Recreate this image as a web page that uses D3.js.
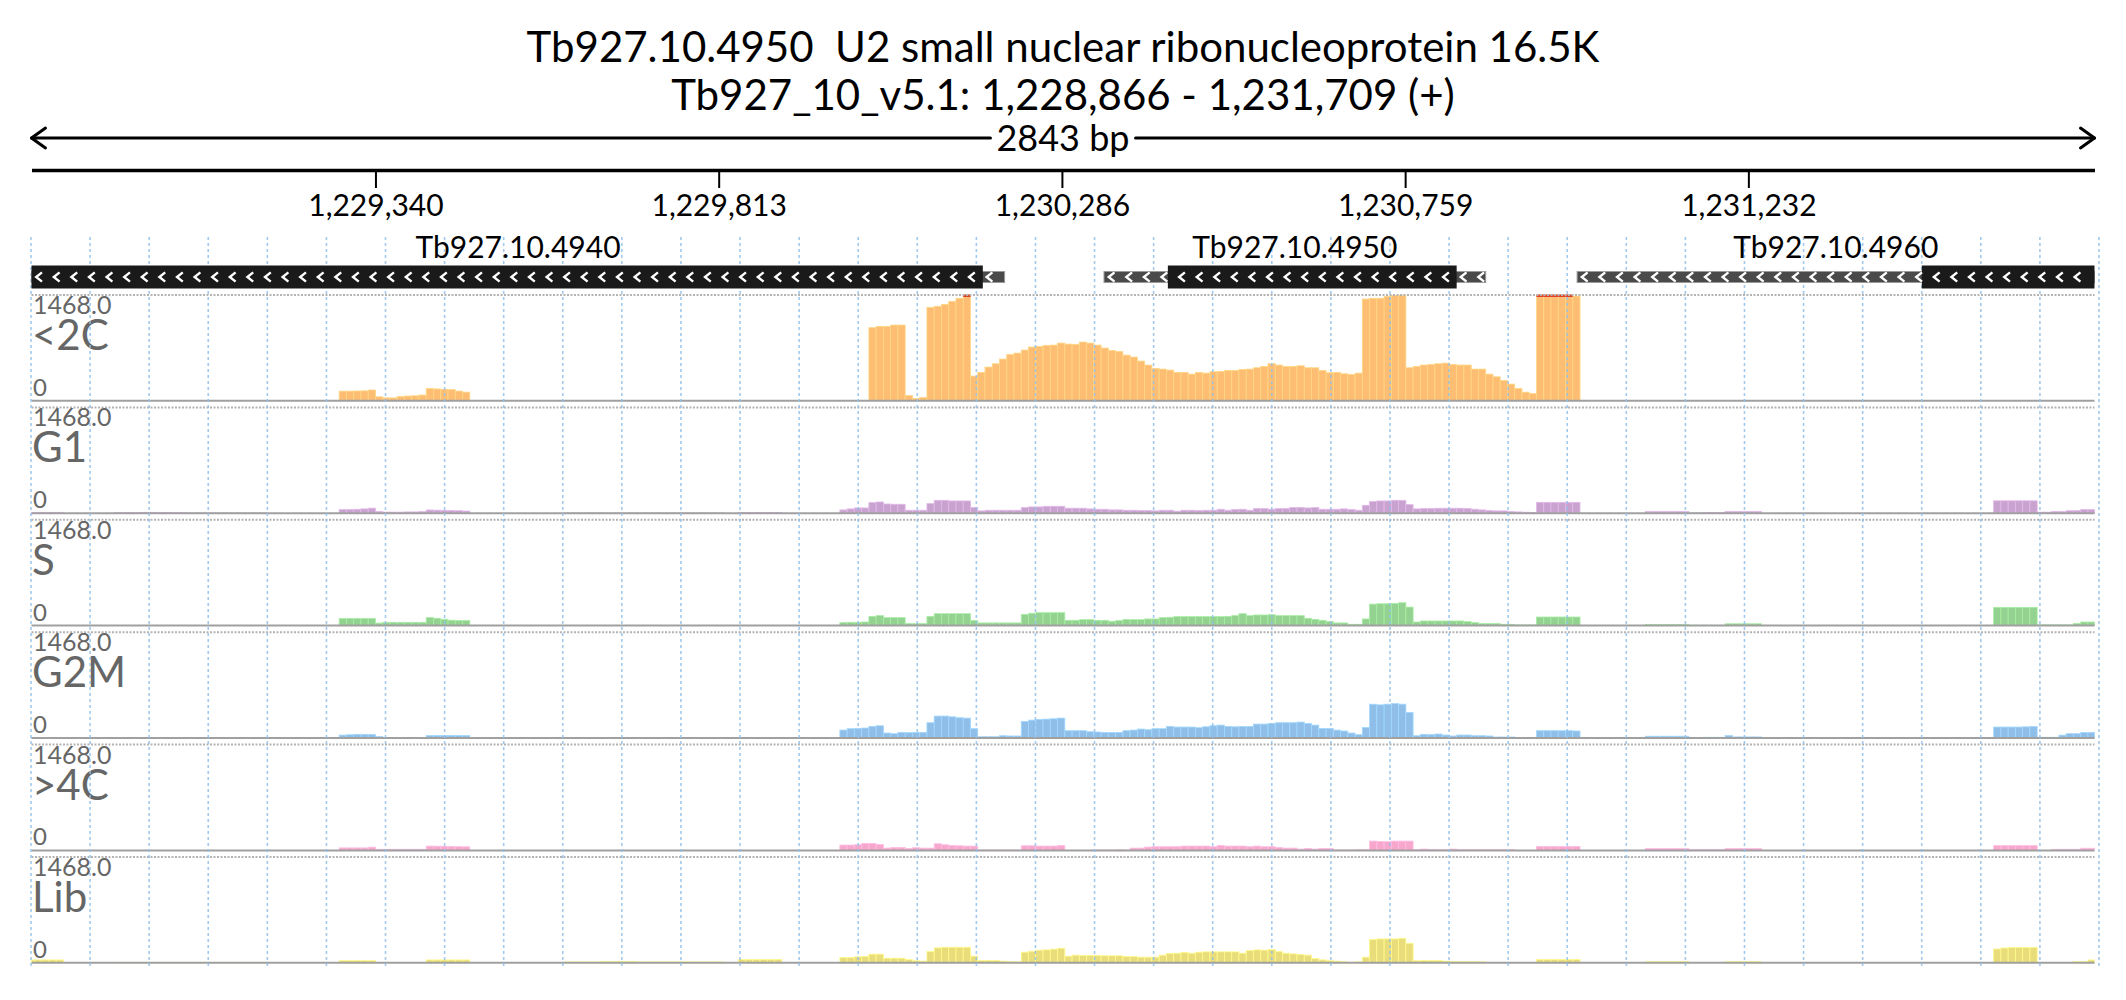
<!DOCTYPE html>
<html><head><meta charset="utf-8">
<script src="https://cdn.jsdelivr.net/npm/d3@7"></script>
<style>
body{margin:0;background:#fff}
svg{display:block}
text{font-family:Lato,"Noto Sans",sans-serif}
</style>
</head><body>
<svg id="chart" width="2126" height="1000"></svg>
<script>
// ---------------- data ----------------
const chromName = "Tb927_10_v5.1";
const regionStart = 1228866, regionEnd = 1231709, strand = "+";
const geneId = "Tb927.10.4950";
const geneDesc = "U2 small nuclear ribonucleoprotein 16.5K";
const tickValues = [1229340, 1229813, 1230286, 1230759, 1231232];

const geneNames  = ["Tb927.10.4940", "Tb927.10.4950", "Tb927.10.4960"];
const geneStarts = [1228700, 1230344, 1230996];
const geneEnds   = [1230207, 1230870, 1232000];
const cdsStarts  = [1228700, 1230432, 1231471];
const cdsEnds    = [1230177, 1230830, 1232000];

const trackNames = ["<2C", "G1", "S", "G2M", ">4C", "Lib"];
const trackMax = 1468;
const binOrigin = 1228870, binSize = 10;

// coverage per 10-bp bin: [first bin index, values...]
const cov2C = [
  [42, [134,134,136,138,150,55,40,40,60,66,70,80,171,165,160,155,135,120]],
  [115, [1014,1033,1033,1051,1051,74,32,46,1297,1311,1338,1380,1422,1500,
         343,394,468,514,579,644,662,704,746,755,769,773,801,787,783,815,801,773,732,699,685,634,607,551,496,449,
         440,426,394,394,370,394,384,403,408,421,421,435,440,458,477,514,496,477,477,486,458,458,421,389,394,375,366,384,
         1412,1422,1422,1450,1462,1465,
         458,477,496,505,514,523,505,496,496,440,440,370,333,282,232,171,120,102,
         1550,1550,1550,1550,1550,1454]]
];
const covG1 = [
  [-1, [12,12,12,12,12]],
  [11, [8,8,8,10,12,12,10,8,8,8,4,4,4,4,4,4,4,4,4,4,4]],
  [42, [50,50,55,60,70,25,15,15,15,18,18,22,45,42,40,38,35,30]],
  [73, [4,4,4,4,4,4,4,4,4,4,4,4,4,4,4,4,4,4,4,4,4,4]],
  [97, [10,10,10,10,10,10]],
  [111, [46,60,73,73,147,156,128,124,124,41,41,41,133,179,179,170,170,170,
         78,32,41,41,41,41,41,78,87,87,96,96,96,
         69,69,69,60,55,55,46,46,41,41,37,37,32,
         41,41,28,41,41,37,41,41,55,41,50,55,41,64,64,55,64,64,78,78,73,78,55,55,55,60,50,41,
         110,161,170,170,179,179,119,
         60,64,64,69,69,69,69,64,55,46,37,32,32,23,18,14,9,
         151,151,151,151,151,151]],
  [222, [25,25,25,25,25,25,5,5,10,10,10,25,25,25,25,25]],
  [270, [172,172,172,172,172,172,15,15,25,25,35,35,50,50,50]]
];
const covS = [
  [42, [97,97,97,97,97,35,45,45,45,45,45,45,111,102,88,74,70,70]],
  [111, [41,46,46,50,128,138,110,110,110,28,28,28,128,165,165,165,165,165,
         69,37,37,37,37,37,37,156,170,179,179,179,179,
         73,73,83,83,73,73,60,69,83,83,83,92,92,
         110,115,124,124,124,124,124,124,124,128,138,165,138,147,147,151,138,138,138,138,101,87,73,55,37,37,18,18,
         92,298,303,303,307,317,257,
         50,64,64,64,64,64,64,55,41,28,28,28,18,18,9,9,9,
         119,119,119,119,119,119]],
  [222, [15,15,15,15,15,15,5,5,5,5,5,25,25,25,25,25]],
  [270, [253,253,253,253,253,253,10,10,10,10,10,30,50,50,50]]
];
const covG2M = [
  [-1, [8,8,8,8,8]],
  [10, [8,8,8,8,8,8,8,8,8]],
  [42, [40,45,51,51,48,20,5,3,3,3,3,3,35,35,35,35,35,35]],
  [66, [6,6,6,6,6,6,6,6,6,6,6,6,6,6,6,6,6,6,6,6,6,6,6,6,6,6,6,6,6,6,6,6,6,6,6,6,6]],
  [111, [110,129,133,138,161,170,69,60,78,74,78,78,
         212,304,304,294,281,276,129,18,18,18,32,28,28,
         230,248,258,262,267,276,
         101,101,101,87,83,78,78,78,101,110,124,115,129,
         129,161,152,152,152,143,156,170,179,161,156,161,161,193,193,202,212,212,212,221,202,179,133,133,110,97,69,46,
         147,469,460,469,478,469,354,
         32,51,46,55,41,28,41,41,32,32,28,14,14,14,0,0,0,
         101,101,101,101,101,97]],
  [222, [25,25,25,25,25,25,0,0,10,10,10,35,15,15,15,15]],
  [270, [152,152,152,152,155,160,10,10,10,40,60,60,76,76,76]]
];
const cov4C = [
  [42, [35,35,35,35,45,15,15,15,15,15,15,15,60,58,58,55,52,50]],
  [111, [74,74,78,97,97,83,32,41,41,28,37,32,32,92,78,69,64,60,60,
         5,5,5,5,5,5,64,64,60,60,60,69,
         2,2,2,2,5,5,5,9,5,32,32,46,51,
         51,51,51,60,60,60,60,51,69,60,60,60,51,60,51,51,41,32,32,18,28,18,28,28,5,5,5,9,
         9,129,124,120,129,129,129,
         9,18,14,9,9,18,9,9,9,9,9,9,9,9,0,0,0,
         55,55,55,55,55,55]],
  [222, [25,25,25,25,25,25,10,10,10,10,10,25,25,25,25,25]],
  [270, [66,66,66,66,66,66,0,0,15,15,15,15,30,30,30]]
];
const covLib = [
  [-1, [40,40,40,40,40]],
  [11, [6,6,6,6,6,6,6,6,6,6,6,6,6,6,6,6,6,6,6,6,6]],
  [42, [30,30,30,30,30,5,5,5,5,5,5,5,40,40,40,40,40,40]],
  [73, [12,12,12,12,12,20,20,20,20,20,12,12,12,12,12,12,12,12,12,12,12,12]],
  [97, [45,45,45,45,45,45]],
  [111, [74,74,83,87,120,120,64,64,64,46,28,23,
         156,207,216,216,216,216,92,32,32,32,23,14,14,
         147,161,175,179,189,202,
         92,106,101,101,101,97,97,97,87,87,78,78,78,
         106,129,133,143,133,147,152,152,152,152,152,133,170,179,175,184,156,133,124,115,106,60,41,28,23,14,5,14,
         78,322,331,331,331,340,271,
         28,32,32,32,23,18,14,14,14,14,0,0,0,0,0,0,0,
         46,46,46,46,46,46]],
  [222, [15,15,15,15,15,15,0,0,0,0,0,15,15,15,15,15]],
  [270, [192,205,212,212,212,212,5,5,5,5,5,15,15,40,40]]
];
const trackCoverage = [cov2C, covG1, covS, covG2M, cov4C, covLib];

// ---------------- style / layout ----------------
const trackColors = ["#fdbe74", "#c9a3cf", "#93d290", "#8fbfe8", "#f6a7cb", "#e9dd7b"];
const x0 = 31.5, x1 = 2094.5;
const trackTop0 = 295, trackPitch = 112.4, trackH = 105.8;

const svg = d3.select("#chart");
const x = d3.scaleLinear().domain([regionStart, regionEnd]).range([x0, x1]);
const cx = (x0 + x1) / 2;

// Title
svg.append("text").attr("x", cx).attr("y", 62).attr("text-anchor", "middle")
  .attr("font-size", 42).attr("fill", "#000").style("white-space", "pre")
  .attr("xml:space", "preserve")
  .text(geneId + "  " + geneDesc);
svg.append("text").attr("x", cx).attr("y", 110).attr("text-anchor", "middle")
  .attr("font-size", 42).attr("fill", "#000")
  .text(`${chromName}: ${d3.format(",")(regionStart)} - ${d3.format(",")(regionEnd)} (${strand})`);

// length arrow
const lenText = svg.append("text").attr("x", cx).attr("y", 151).attr("text-anchor", "middle")
  .attr("font-size", 36).attr("fill", "#000")
  .text(`${regionEnd - regionStart} bp`);
const bb = lenText.node().getBBox();
const arrowY = 138;
const ag = svg.append("g").attr("stroke", "#000").attr("stroke-width", 3).attr("fill", "none")
  .attr("stroke-linecap", "round").attr("stroke-linejoin", "round");
ag.append("line").attr("x1", x(regionStart)).attr("x2", bb.x - 6).attr("y1", arrowY).attr("y2", arrowY);
ag.append("line").attr("x1", bb.x + bb.width + 6).attr("x2", x(regionEnd)).attr("y1", arrowY).attr("y2", arrowY);
ag.append("path").attr("d", `M${x(regionStart) + 14},${arrowY - 10} L${x(regionStart)},${arrowY} L${x(regionStart) + 14},${arrowY + 10}`);
ag.append("path").attr("d", `M${x(regionEnd) - 14},${arrowY - 10} L${x(regionEnd)},${arrowY} L${x(regionEnd) - 14},${arrowY + 10}`);

// coordinate axis
const axis = d3.axisBottom(x).tickValues(tickValues).tickFormat(d3.format(","))
  .tickSize(18).tickSizeOuter(0).tickPadding(7);
const ax = svg.append("g").attr("transform", "translate(0,170)").call(axis);
ax.select(".domain").attr("stroke", "#000").attr("stroke-width", 3.5);
ax.selectAll(".tick line").attr("stroke", "#000").attr("stroke-width", 2);
ax.selectAll(".tick text").attr("font-size", 30).attr("fill", "#000")
  .attr("font-family", "Lato, 'Noto Sans', sans-serif");

// tracks
const trackG = svg.append("g");

trackNames.forEach((name, k) => {
  const T = trackTop0 + k * trackPitch;
  const B = T + trackH;
  const y = d3.scaleLinear().domain([0, trackMax]).range([B, T]);
  const g = trackG.append("g");
  const bins = [];
  trackCoverage[k].forEach(([first, vals]) => {
    vals.forEach((v, j) => {
      const s = Math.max(regionStart, binOrigin + (first + j) * binSize);
      const e = Math.min(regionEnd, binOrigin + (first + j + 1) * binSize);
      if (v > 0 && e > s) bins.push({s, e, v});
    });
  });
  const col = trackColors[k];
  g.selectAll("rect.bar").data(bins).join("rect").attr("class", "bar")
    .attr("x", d => x(d.s)).attr("width", d => x(d.e) - x(d.s))
    .attr("y", d => y(Math.min(d.v, trackMax)))
    .attr("height", d => y(0) - y(Math.min(d.v, trackMax)))
    .attr("fill", col)
    .attr("stroke", d3.color(col).brighter(0.35)).attr("stroke-width", 0.8);
  g.selectAll("rect.clip").data(bins.filter(d => d.v > trackMax)).join("rect").attr("class", "clip")
    .attr("x", d => x(d.s)).attr("width", d => x(d.e) - x(d.s))
    .attr("y", T - 0.5).attr("height", 2.5).attr("fill", "#e0402a");
  // top dotted line and baseline
  g.append("line").attr("x1", x(regionStart)).attr("x2", x(regionEnd)).attr("y1", T).attr("y2", T)
    .attr("stroke", "#b3b3b3").attr("stroke-width", 2).attr("stroke-dasharray", "2,1.5");
  g.append("line").attr("x1", x(regionStart)).attr("x2", x(regionEnd)).attr("y1", B).attr("y2", B)
    .attr("stroke", "#a0a0a0").attr("stroke-width", 2);
  // labels
  g.append("text").attr("x", 33).attr("y", T + 19).attr("font-size", 25).attr("fill", "#666")
    .text(d3.format(".1f")(trackMax));
  g.append("text").attr("x", 32).attr("y", T + 55).attr("font-size", 42).attr("fill", "#666")
    .text(name);
  g.append("text").attr("x", 33).attr("y", B - 5).attr("font-size", 24).attr("fill", "#666")
    .text("0");
});

// vertical grid (drawn over the bars)
const gridX = d3.scaleLinear().domain([0, 35]).range([31, 2099]);
svg.append("g").selectAll("line").data(d3.range(36)).join("line")
  .attr("x1", d => gridX(d)).attr("x2", d => gridX(d)).attr("y1", 237).attr("y2", 968)
  .attr("stroke", "#93c1ea").attr("stroke-width", 1.6).attr("stroke-dasharray", "3,3")
  .attr("opacity", 0.85);

// genes
const geneG = svg.append("g");
const boxY = 277;
geneNames.forEach((name, i) => {
  const gs = Math.max(regionStart, geneStarts[i]), ge = Math.min(regionEnd, geneEnds[i]);
  const cs = Math.max(regionStart, cdsStarts[i]), ce = Math.min(regionEnd, cdsEnds[i]);
  geneG.append("rect").attr("x", x(gs)).attr("width", x(ge) - x(gs))
    .attr("y", boxY - 5.5).attr("height", 11)
    .attr("fill", "#4a4a4a").attr("stroke", "#9a9a9a").attr("stroke-width", 1);
  geneG.append("rect").attr("x", x(cs)).attr("width", x(ce) - x(cs))
    .attr("y", boxY - 11.5).attr("height", 23).attr("fill", "#1a1a1a");
  const px0 = x(gs), px1 = x(ge);
  const chev = [];
  for (let p = px0 + 7.5; p < px1 - 4; p += 17.6) chev.push(p);
  geneG.append("g").selectAll("path").data(chev).join("path")
    .attr("d", p => `M${p + 3},${boxY - 4.6} L${p - 2.8},${boxY} L${p + 3},${boxY + 4.6}`)
    .attr("fill", "none").attr("stroke", "#fff").attr("stroke-width", 2.4)
    .attr("stroke-linejoin", "miter");
  geneG.append("text").attr("x", (px0 + px1) / 2).attr("y", 258).attr("text-anchor", "middle")
    .attr("font-size", 30).attr("fill", "#000").text(name);
});
</script>
</body></html>
